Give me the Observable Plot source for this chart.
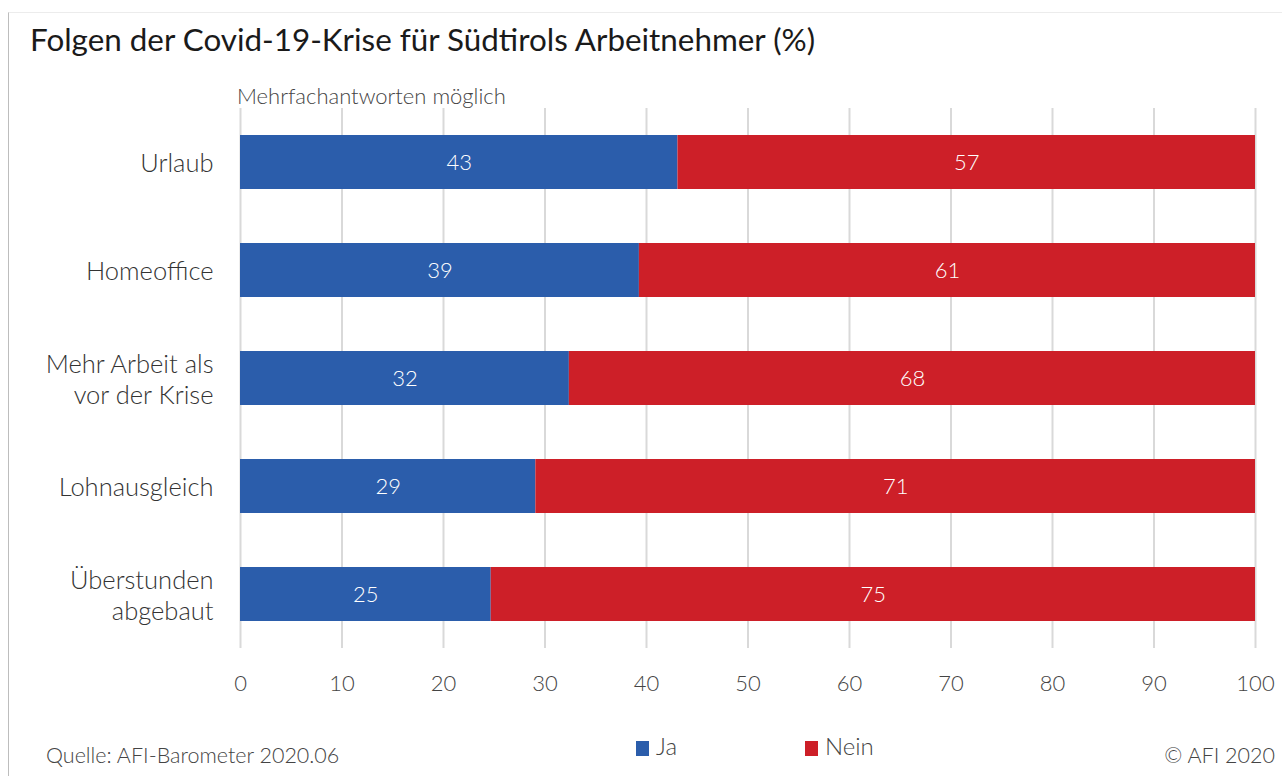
<!DOCTYPE html>
<html>
<head>
<meta charset="utf-8">
<script src="https://cdn.jsdelivr.net/npm/d3@7"></script>
<script src="https://cdn.jsdelivr.net/npm/@observablehq/plot@0.6"></script>
<style>
  html, body { margin: 0; padding: 0; background: #fff; }
  body { width: 1282px; height: 776px; position: relative; overflow: hidden; font-family: Lato, "Noto Sans", sans-serif; }
  #frame { position: absolute; left: 8px; top: 12px; width: 1290px; height: 800px; border-left: 1.5px solid #bdbdbd; border-top: 1px solid #ececec; }
  #title { position: absolute; left: 30px; top: 20px; font-size: 31.4px; color: #1a1a1a; white-space: nowrap; }
  #subtitle { position: absolute; left: 237px; top: 82px; font-size: 22px; font-weight: 300; color: #444; white-space: nowrap; }
  #chart { position: absolute; left: 0; top: 80px; }
  .foot { position: absolute; font-size: 21.5px; font-weight: 300; color: #444; white-space: nowrap; }
  .sw { display: inline-block; width: 13px; height: 15px; vertical-align: -1px; margin-right: 7px; }
</style>
</head>
<body>
<div id="frame"></div>
<div id="title">Folgen der Covid-19-Krise für Südtirols Arbeitnehmer (%)</div>
<div id="subtitle">Mehrfachantworten möglich</div>
<div id="chart"></div>
<div class="foot" style="left:46px; top:742px;">Quelle: AFI-Barometer 2020.06</div>
<div class="foot" id="leg1" style="left:636px; top:731px; font-size:24px;"><span class="sw" style="background:#2B5DAB"></span>Ja</div>
<div class="foot" id="leg2" style="left:805px; top:731px; font-size:24px;"><span class="sw" style="background:#CD1F28"></span>Nein</div>
<div class="foot" style="right:7px; top:742px;">© AFI 2020</div>
<script>
const categories = ["Urlaub", "Homeoffice", "Mehr Arbeit als\nvor der Krise", "Lohnausgleich", "Überstunden\nabgebaut"];
const series = ["Ja", "Nein"];
const jaValues = [43.1, 39.3, 32.4, 29.1, 24.7];
const neinValues = [56.9, 60.7, 67.6, 70.9, 75.3];
const xTicks = [0, 10, 20, 30, 40, 50, 60, 70, 80, 90, 100];
const colors = ["#2B5DAB", "#CD1F28"];

const data = [];
categories.forEach((c, i) => {
  data.push({cat: c, series: "Ja", value: jaValues[i]});
  data.push({cat: c, series: "Nein", value: neinValues[i]});
});

const chart = Plot.plot({
  width: 1282,
  height: 640,
  marginLeft: 240,
  marginRight: 27,
  marginTop: 28,
  marginBottom: 72,
  style: {fontFamily: "Lato, 'Noto Sans', sans-serif", background: "transparent"},
  x: {domain: [0, 100], ticks: xTicks},
  y: {domain: categories, paddingInner: 0.5, paddingOuter: 0.25},
  color: {domain: series, range: colors},
  marks: [
    Plot.gridX(xTicks, {stroke: "#d9d9d9", strokeOpacity: 1, strokeWidth: 2}),
    Plot.barX(data, Plot.stackX({x: "value", y: "cat", fill: "series", z: "series", inset: 0})),
    Plot.text(data, Plot.stackX({x: "value", y: "cat", z: "series", text: d => Math.round(d.value), fill: "white", fontSize: 22, fontWeight: 300})),
    Plot.axisX(xTicks, {tickSize: 0, tickPadding: 27, fontSize: 22, fontWeight: 300, fill: "#444", label: null}),
    Plot.axisY({tickSize: 0, tickPadding: 27, fontSize: 25.5, fontWeight: 300, fill: "#333", lineHeight: 1.2, label: null})
  ]
});
document.getElementById("chart").appendChild(chart);
</script>
</body>
</html>
